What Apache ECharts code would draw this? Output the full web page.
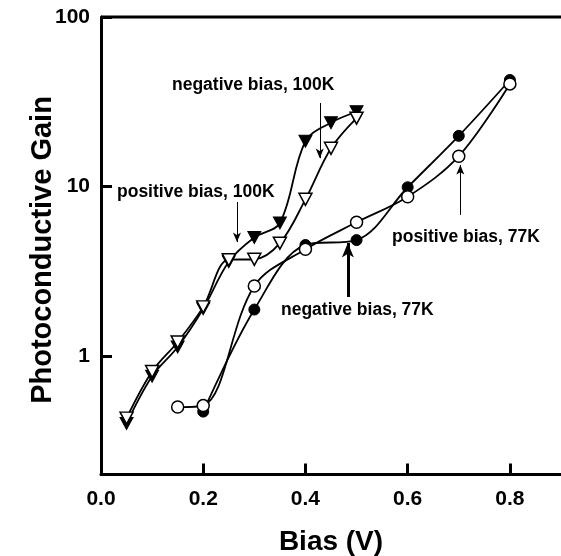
<!DOCTYPE html>
<html>
<head>
<meta charset="utf-8">
<script src="https://cdn.jsdelivr.net/npm/echarts@6/dist/echarts.min.js"></script>
<style>
html,body{margin:0;padding:0;background:#fff;}
#c{width:561px;height:556px;}
</style>
</head>
<body>
<div id="c"></div>
<script>
// Data
var biasNeg100 = [0.05, 0.10, 0.15, 0.20, 0.25, 0.30, 0.35, 0.40, 0.45, 0.50];
var gainNeg100 = [0.40, 0.76, 1.13, 1.90, 3.60, 5.0, 6.1, 18.5, 23.8, 27.6];
var biasPos100 = [0.05, 0.10, 0.15, 0.20, 0.25, 0.30, 0.35, 0.40, 0.45, 0.50];
var gainPos100 = [0.43, 0.81, 1.21, 1.95, 3.70, 3.72, 4.63, 8.4, 16.8, 25.3];
var biasPos77 = [0.15, 0.20, 0.30, 0.40, 0.50, 0.60, 0.70, 0.80];
var gainPos77 = [0.50, 0.51, 2.59, 4.26, 6.15, 8.7, 15.1, 40.3];
var biasNeg77 = [0.20, 0.30, 0.40, 0.50, 0.60, 0.70, 0.80];
var gainNeg77 = [0.47, 1.88, 4.52, 4.83, 9.9, 19.9, 42.5];

var xTicks = [0.0, 0.2, 0.4, 0.6, 0.8];
var yTicks = [1, 10, 100];

// Annotation labels and arrows (in data coordinates)
var annLabels = ['negative bias, 100K', 'positive bias, 100K', 'positive bias, 77K', 'negative bias, 77K'];
var annArrowX = [0.428, 0.266, 0.703, 0.483];
var annArrowFrom = [31.1, 8.1, 6.8, 2.23];
var annArrowTo = [14.7, 4.7, 13.4, 4.64];

function pairs(xs, ys){ return xs.map(function(x,i){ return [x, ys[i]]; }); }

var FONT = 'Liberation Sans, Arial, sans-serif';
var chart = echarts.init(document.getElementById('c'), null, {renderer:'canvas'});

var lineStyle = {color:'#000', width:1.8};
function arrowLine(i, w, sz){
  return {
    silent:true, symbol:['none','arrow'], symbolSize:[sz, sz*1.6],
    lineStyle:{color:'#000', width:w, type:'solid'},
    label:{show:false},
    data:[[{coord:[annArrowX[i], annArrowFrom[i]]},{coord:[annArrowX[i], annArrowTo[i]]}]]
  };
}

var option = {
  animation:false,
  backgroundColor:'#fff',
  grid:{left:101, right:0, top:17, bottom:81.5, show:false, containLabel:false, outerBoundsMode:'none'},
  xAxis:{
    type:'value', min:0, max:0.9, interval:0.2,
    name:'Bias (V)', nameLocation:'middle', nameGap:54,
    nameTextStyle:{fontFamily:FONT, fontWeight:'bold', fontSize:28, color:'#000'},
    axisLine:{show:true, lineStyle:{color:'#000', width:3}},
    axisTick:{show:true, inside:true, length:11, lineStyle:{color:'#000', width:3}},
    axisLabel:{margin:14, fontFamily:FONT, fontWeight:'bold', fontSize:21, color:'#000',
      showMaxLabel:false,
      formatter:function(v){ return xTicks.some(function(t){return Math.abs(t-v)<1e-6;}) ? v.toFixed(1) : ''; }},
    splitLine:{show:false}
  },
  yAxis:{
    type:'log', logBase:10, min:0.2, max:100,
    axisLine:{show:true, lineStyle:{color:'#000', width:3}},
    axisTick:{show:true, inside:true, length:11, lineStyle:{color:'#000', width:3}},
    minorTick:{show:false},
    axisLabel:{margin:11, fontFamily:FONT, fontWeight:'bold', fontSize:21, color:'#000',
      formatter:function(v){ return yTicks.some(function(t){return Math.abs(t-v)/t<1e-6;}) ? String(Math.round(v)) : ''; }},
    splitLine:{show:false}
  },
  graphic:[
    {type:'line', shape:{x1:101, y1:17, x2:561, y2:17}, style:{stroke:'#000', lineWidth:3}, z:100},
    {type:'text', x:43, y:250, rotation:Math.PI/2,
      style:{text:'Photoconductive Gain', font:'bold 29px '+FONT, fill:'#000', align:'center', verticalAlign:'middle'}},
    {type:'text', left:172, top:76, style:{text:annLabels[0], font:'bold 17.5px '+FONT, fill:'#000'}},
    {type:'text', left:117, top:183, style:{text:annLabels[1], font:'bold 17.5px '+FONT, fill:'#000'}},
    {type:'text', left:392, top:228, style:{text:annLabels[2], font:'bold 17.5px '+FONT, fill:'#000'}},
    {type:'text', left:281, top:301, style:{text:annLabels[3], font:'bold 17.5px '+FONT, fill:'#000'}}
  ],
  series:[
    {type:'line', name:'neg100', data:pairs(biasNeg100, gainNeg100), smooth:0.35,
      symbol:'triangle', symbolRotate:180, symbolSize:[13,12],
      itemStyle:{color:'#000', borderColor:'#000', borderWidth:1}, lineStyle:lineStyle, z:3,
      markLine:arrowLine(0, 1, 6)},
    {type:'line', name:'pos100', data:pairs(biasPos100, gainPos100), smooth:0.35,
      symbol:'triangle', symbolRotate:180, symbolSize:[13,12],
      itemStyle:{color:'#fff', borderColor:'#000', borderWidth:1.5}, lineStyle:lineStyle, z:4,
      markLine:arrowLine(1, 1, 6)},
    {type:'line', name:'pos77', data:pairs(biasPos77, gainPos77), smooth:0.35,
      symbol:'circle', symbolSize:12,
      itemStyle:{color:'#fff', borderColor:'#000', borderWidth:1.5}, lineStyle:lineStyle, z:4,
      markLine:arrowLine(2, 1, 6)},
    {type:'line', name:'neg77', data:pairs(biasNeg77, gainNeg77), smooth:0.35,
      symbol:'circle', symbolSize:11,
      itemStyle:{color:'#000', borderColor:'#000', borderWidth:1}, lineStyle:lineStyle, z:3,
      markLine:arrowLine(3, 3, 9)}
  ]
};
chart.setOption(option);
</script>
</body>
</html>
